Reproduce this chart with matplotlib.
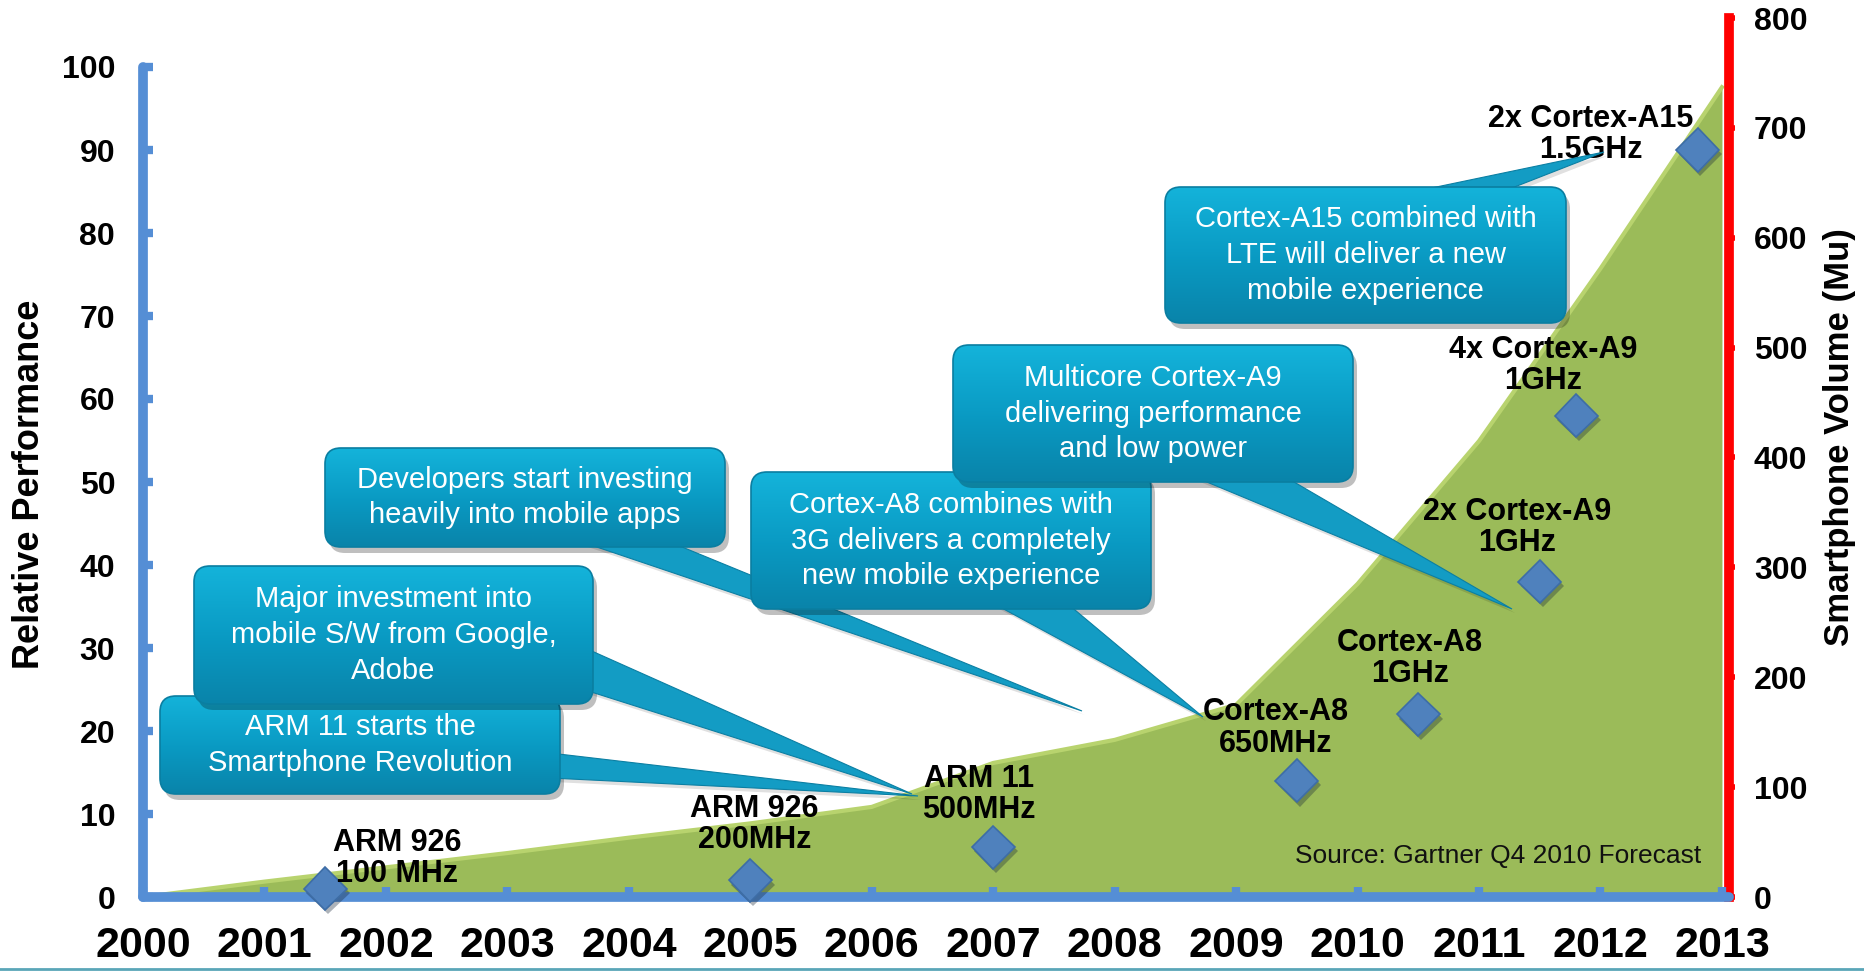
import numpy as np
import matplotlib
matplotlib.use('Agg')
import matplotlib.pyplot as plt
import matplotlib.patheffects as pe
from matplotlib.patches import FancyBboxPatch, Polygon
from matplotlib.colors import LinearSegmentedColormap
from matplotlib.lines import Line2D
from matplotlib.transforms import Affine2D

plt.rcParams['font.family'] = ['Liberation Sans', 'DejaVu Sans']
plt.rcParams['font.weight'] = 'bold'

# smartphone volume (Mu), right axis
years = list(range(2000, 2014))
volume_mu = [0, 14, 27, 40, 54, 67, 82, 122, 143, 175, 285, 415, 572, 737]

# processors, left axis (relative performance)
cpu_labels = ['ARM 926\n100 MHz', 'ARM 926\n200MHz', 'ARM 11\n500MHz',
              'Cortex-A8\n650MHz', 'Cortex-A8\n1GHz', '2x Cortex-A9\n1GHz',
              '4x Cortex-A9\n1GHz', '2x Cortex-A15\n1.5GHz']
cpu_year = [2001.5, 2005.0, 2007.0, 2009.5, 2010.5, 2011.5, 2011.8, 2012.8]
cpu_perf = [1, 2, 6, 14, 22, 38, 58, 90]
# label offsets in points from each diamond
cpu_label_off = [(52, 22), (3, 40), (-10, 38), (-15, 38), (-6, 40),
                 (-16, 39), (-24, 36), (-77, 11)]

callout_texts = ['ARM 11 starts the\nSmartphone Revolution',
                 'Major investment into\nmobile S/W from Google,\nAdobe',
                 'Developers start investing\nheavily into mobile apps',
                 'Cortex-A8 combines with\n3G delivers a completely\nnew mobile experience',
                 'Multicore Cortex-A9\ndelivering performance\nand low power',
                 'Cortex-A15 combined with\nLTE will deliver a new\nmobile experience']
# box (x0, y0, x1, y1), pointer base points, tip -- figure pixels from top-left
callout_boxes = [(160, 696, 560, 794), (194, 566, 593, 704), (325, 448, 725, 547),
                 (751, 472, 1151, 609), (953, 345, 1353, 482), (1165, 187, 1566, 323)]
callout_bases = [((550, 753), (550, 778)), ((585, 648), (585, 690)),
                 ((576, 540), (665, 540)), ((987, 600), (1063, 600)),
                 ((1190, 475), (1282, 475)), ((1398, 195), (1494, 195))]
callout_tips = [(918, 796), (912, 794), (1082, 711), (1203, 717), (1512, 609), (1604, 152)]

W, H = 1864, 972
L, R, T, B = 143, 1729, 18, 897
BLUE = '#558ed5'

fig = plt.figure(figsize=(W / 100, H / 100), dpi=100)
ax = fig.add_axes([L / W, 1 - B / H, (R - L) / W, (B - T) / H])
ax2 = ax.twinx()
ax.set_zorder(ax2.get_zorder() + 1)
ax.patch.set_visible(False)

# green volume area
ax2.fill_between(years, volume_mu, color='#9bbb59', lw=0, zorder=1)
ax2.plot(years, volume_mu, color='#b8d36e', lw=3, zorder=2, solid_joinstyle='round')
ax2.set_ylim(0, 800)
ax2.set_yticks(range(0, 801, 100))
ax2.tick_params(axis='y', direction='out', length=4, width=4, color='#ff0000',
                pad=14, labelsize=23)
for s in ['top', 'left', 'bottom']:
    ax2.spines[s].set_visible(False)
ax2.spines['right'].set_color('#ff0000')
ax2.spines['right'].set_linewidth(7)
ax2.set_ylabel('Smartphone Volume (Mu)', fontsize=25, fontweight='bold')
ax2.yaxis.set_label_coords(1.059, 0.523)

# left / bottom axes
ax.set_xlim(2000, 2013.058)
ax.set_ylim(0, 100 * (B - T) / (B - 67))
ax.set_yticks(range(0, 101, 10))
ax.set_xticks(years)
ax.set_xticklabels([str(y) for y in years])
ax.tick_params(axis='y', direction='in', length=7, width=6, color=BLUE, pad=20, labelsize=23)
ax.tick_params(axis='x', direction='in', length=7, width=6, color=BLUE, pad=21, labelsize=31)
for s in ['top', 'right']:
    ax.spines[s].set_visible(False)
for s in ['left', 'bottom']:
    ax.spines[s].set_color(BLUE)
    ax.spines[s].set_linewidth(7)
    ax.spines[s].set_capstyle('round')
ax.spines['left'].set_bounds(0, 100)
ax.set_ylabel('Relative Performance', fontsize=26, fontweight='bold')
ax.yaxis.set_label_coords(-0.0605, 0.47)

ax.plot(cpu_year, cpu_perf, 'D', ms=22, mfc='#4f81bd', mec='#3d6da6', mew=1.2,
        zorder=5, clip_on=False,
        path_effects=[pe.SimplePatchShadow(offset=(2, -3), alpha=0.35), pe.Normal()])
for lbl, x, y, off in zip(cpu_labels, cpu_year, cpu_perf, cpu_label_off):
    ax.annotate(lbl, (x, y), xytext=off, textcoords='offset points', ha='center',
                va='center', fontsize=22, fontweight='bold', linespacing=1.05, zorder=6)

# overlay in figure pixels for the callouts
ov = fig.add_axes([0, 0, 1, 1], zorder=10)
ov.patch.set_visible(False)
ov.axis('off')

ov.text(1498, 856, 'Source: Gartner Q4 2010 Forecast', ha='center', va='center',
        fontsize=19, fontweight='normal', color='#111111')

grad_cmap = LinearSegmentedColormap.from_list('box', ['#14b3da', '#0a9bc4', '#0984aa'])
grad = np.linspace(0, 1, 64).reshape(-1, 1)
for i, (txt, bx, base, tip) in enumerate(zip(callout_texts, callout_boxes,
                                                callout_bases, callout_tips)):
    z = 2 + i
    x0, y0, x1, y1 = bx
    # shadows
    ov.add_patch(Polygon([base[0], base[1], tip], closed=True, fc='#000000',
                         alpha=0.12, lw=0, zorder=z,
                         transform=ov.transData + Affine2D().translate(3, -4)))
    ov.add_patch(FancyBboxPatch((x0 + 4, y0 + 6), x1 - x0, y1 - y0,
                                boxstyle='round,pad=0,rounding_size=16',
                                fc='#000000', alpha=0.25, lw=0, zorder=z))
    ov.add_patch(Polygon([base[0], base[1], tip], closed=True, fc='#139cc4',
                         ec='#0b7fa3', lw=0.8, zorder=z + 0.05))
    box = FancyBboxPatch((x0, y0), x1 - x0, y1 - y0,
                         boxstyle='round,pad=0,rounding_size=16',
                         fc='#0a9bc4', ec='none', zorder=z + 0.1)
    ov.add_patch(box)
    im = ov.imshow(grad, cmap=grad_cmap, extent=(x0, x1, y1, y0), aspect='auto',
                   interpolation='bicubic', zorder=z + 0.15)
    im.set_clip_path(box)
    ov.add_patch(FancyBboxPatch((x0, y0), x1 - x0, y1 - y0,
                                boxstyle='round,pad=0,rounding_size=16',
                                fc='none', ec='#0a7ea1', lw=1.2, zorder=z + 0.2))
    ov.text((x0 + x1) / 2, (y0 + y1) / 2, txt, ha='center', va='center',
            color='white', fontsize=21, fontweight='normal', linespacing=1.35,
            zorder=z + 0.3)

ov.set_xlim(0, W)
ov.set_ylim(H, 0)

fig.add_artist(Line2D([0, 1], [0.003, 0.003], color='#5aa6b8', lw=2,
                      transform=fig.transFigure))

fig.savefig('out.png', dpi=100)
